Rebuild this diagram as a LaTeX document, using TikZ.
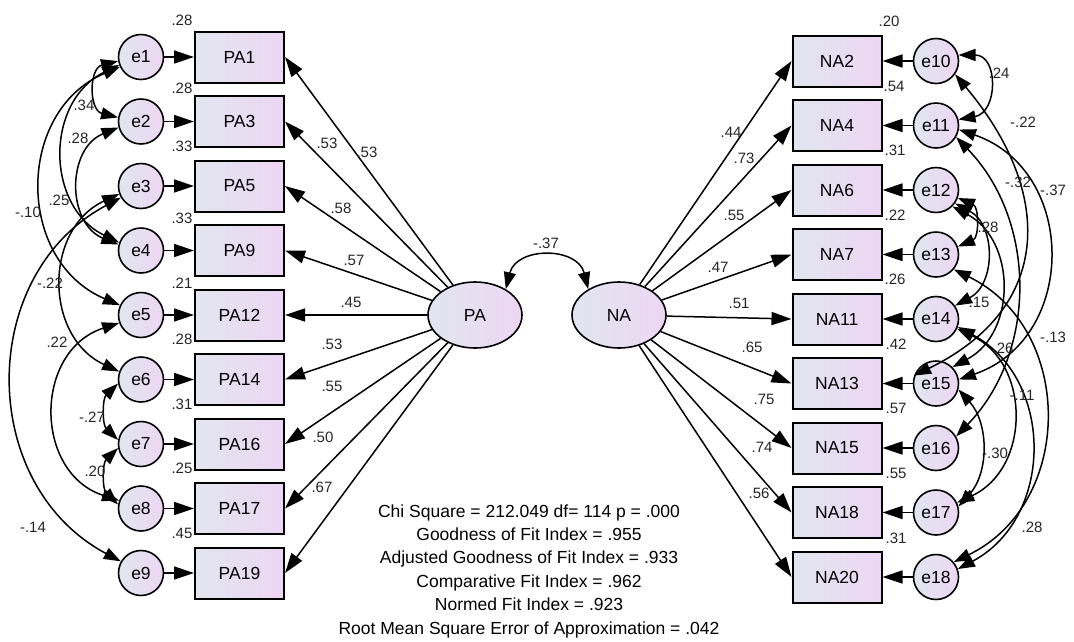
\documentclass[tikz,border=0pt]{standalone}
\usepackage{fontspec}
\setmainfont{Liberation Sans}
\usetikzlibrary{arrows.meta, positioning, shapes.geometric}
\definecolor{shadeleft}{HTML}{E1E6F0}
\definecolor{shaderight}{HTML}{EDD6F2}
\tikzset{
  errc/.style={circle, draw, line width=1.6pt, minimum size=45pt, inner sep=0pt,
               left color=shadeleft, right color=shaderight,
               font=\fontsize{17.5}{19}\selectfont},
  ind/.style={rectangle, draw, line width=2pt, minimum width=89pt, minimum height=51pt,
              inner sep=0pt, left color=shadeleft, right color=shaderight,
              font=\fontsize{17.5}{19}\selectfont},
  lat/.style={ellipse, draw, line width=1.6pt, minimum width=94pt, minimum height=66pt,
               inner sep=0pt, left color=shadeleft, right color=shaderight,
               font=\fontsize{17.5}{19}\selectfont},
  arr/.style={-{Triangle[length=20pt,width=13pt]}, line width=1.5pt},
  cov/.style={{Triangle[length=17pt,width=12pt]}-{Triangle[length=17pt,width=12pt]},
              line width=1.5pt},
  lbl/.style={font=\fontsize{15}{17}\selectfont, text=black!85, inner sep=0pt},
  stats/.style={align=center, inner sep=0pt, font=\fontsize{17.5}{23.4}\selectfont},
}

\begin{document}
\begin{tikzpicture}[x=1pt, y=1pt]
  \useasboundingbox (0,0) rectangle (1074,-641);

  % PA side: errors and items
  \node[errc] (e1) at (141,-57) {e1};
  \node[errc] (e2) at (141,-121.5) {e2};
  \node[errc] (e3) at (141,-186) {e3};
  \node[errc] (e4) at (141,-250.5) {e4};
  \node[errc] (e5) at (141,-315) {e5};
  \node[errc] (e6) at (141,-379.5) {e6};
  \node[errc] (e7) at (141,-444) {e7};
  \node[errc] (e8) at (141,-508.5) {e8};
  \node[errc] (e9) at (141,-573) {e9};
  \node[ind, right=29.7pt of e1] (PA1) {PA1};
  \node[ind, right=29.7pt of e2] (PA3) {PA3};
  \node[ind, right=29.7pt of e3] (PA5) {PA5};
  \node[ind, right=29.7pt of e4] (PA9) {PA9};
  \node[ind, right=29.7pt of e5] (PA12) {PA12};
  \node[ind, right=29.7pt of e6] (PA14) {PA14};
  \node[ind, right=29.7pt of e7] (PA16) {PA16};
  \node[ind, right=29.7pt of e8] (PA17) {PA17};
  \node[ind, right=29.7pt of e9] (PA19) {PA19};

  % NA side: items and errors
  \node[ind] (NA2) at (837,-61) {NA2};
  \node[ind] (NA4) at (837,-125.5) {NA4};
  \node[ind] (NA6) at (837,-190) {NA6};
  \node[ind] (NA7) at (837,-254.5) {NA7};
  \node[ind] (NA11) at (837,-319) {NA11};
  \node[ind] (NA13) at (837,-383.5) {NA13};
  \node[ind] (NA15) at (837,-448) {NA15};
  \node[ind] (NA18) at (837,-512.5) {NA18};
  \node[ind] (NA20) at (837,-577) {NA20};
  \node[errc, right=30.2pt of NA2] (e10) {e10};
  \node[errc, right=30.2pt of NA4] (e11) {e11};
  \node[errc, right=30.2pt of NA6] (e12) {e12};
  \node[errc, right=30.2pt of NA7] (e13) {e13};
  \node[errc, right=30.2pt of NA11] (e14) {e14};
  \node[errc, right=30.2pt of NA13] (e15) {e15};
  \node[errc, right=30.2pt of NA15] (e16) {e16};
  \node[errc, right=30.2pt of NA18] (e17) {e17};
  \node[errc, right=30.2pt of NA20] (e18) {e18};

  % latent factors
  \node[lat] (PA) at (475,-315) {PA};
  \node[lat] (NA) at (619,-315) {NA};

  % error paths
  \draw[arr] (e1) -- (PA1);
  \draw[arr] (e2) -- (PA3);
  \draw[arr] (e3) -- (PA5);
  \draw[arr] (e4) -- (PA9);
  \draw[arr] (e5) -- (PA12);
  \draw[arr] (e6) -- (PA14);
  \draw[arr] (e7) -- (PA16);
  \draw[arr] (e8) -- (PA17);
  \draw[arr] (e9) -- (PA19);
  \draw[arr] (e10) -- (NA2);
  \draw[arr] (e11) -- (NA4);
  \draw[arr] (e12) -- (NA6);
  \draw[arr] (e13) -- (NA7);
  \draw[arr] (e14) -- (NA11);
  \draw[arr] (e15) -- (NA13);
  \draw[arr] (e16) -- (NA15);
  \draw[arr] (e17) -- (NA18);
  \draw[arr] (e18) -- (NA20);

  % loadings
  \draw[arr] (PA) -- (PA1.east);
  \draw[arr] (PA) -- (PA3.east);
  \draw[arr] (PA) -- (PA5.east);
  \draw[arr] (PA) -- (PA9.east);
  \draw[arr] (PA) -- (PA12.east);
  \draw[arr] (PA) -- (PA14.east);
  \draw[arr] (PA) -- (PA16.east);
  \draw[arr] (PA) -- (PA17.east);
  \draw[arr] (PA) -- (PA19.east);
  \draw[arr] (NA) -- (NA2.west);
  \draw[arr] (NA) -- (NA4.west);
  \draw[arr] (NA) -- (NA6.west);
  \draw[arr] (NA) -- (NA7.west);
  \draw[arr] (NA) -- (NA11.west);
  \draw[arr] (NA) -- (NA13.west);
  \draw[arr] (NA) -- (NA15.west);
  \draw[arr] (NA) -- (NA18.west);
  \draw[arr] (NA) -- (NA20.west);

  % covariances
  \draw[cov] (PA.40) to[bend left=76, looseness=1.37] (NA.140);
  \draw[cov] (e1.190) to[bend right=76, looseness=1.37] (e2.170);
  \draw[cov] (e2.195) to[bend right=68, looseness=1.23] (e4.165);
  \draw[cov] (e1.200) to[bend right=64, looseness=1.19] (e4.160);
  \draw[cov] (e1.205) to[bend right=67, looseness=1.22] (e5.155);
  \draw[cov] (e3.200) to[bend right=65, looseness=1.2] (e6.160);
  \draw[cov] (e3.210) to[bend right=62, looseness=1.15] (e9.150);
  \draw[cov] (e5.200) to[bend right=72, looseness=1.3] (e8.160);
  \draw[cov] (e6.190) to[bend right=46] (e7.170);
  \draw[cov] (e7.190) to[bend right=46] (e8.170);
  \draw[cov] (e10.15) to[out=0, in=10, looseness=1.6] (e11.15);
  \draw[cov] (e10.-35) to[out=-50, in=26, looseness=1.3] (e15.160);
  \draw[cov] (e11.-30) to[bend left=44] (e16.30);
  \draw[cov] (e11.-10) to[bend left=71, looseness=1.29] (e15.10);
  \draw[cov] (e12.-20) to[bend left=67, looseness=1.22] (e13.20);
  \draw[cov] (e12.-35) to[bend left=62, looseness=1.16] (e14.35);
  \draw[cov] (e12.-45) to[bend left=62, looseness=1.16] (e15.45);
  \draw[cov] (e13.-40) to[bend left=64, looseness=1.18] (e18.40);
  \draw[cov] (e14.-25) to[bend left=65, looseness=1.2] (e17.25);
  \draw[cov] (e15.-15) to[bend left=42] (e17.15);
  \draw[cov] (e14.-20) to[bend left=62, looseness=1.16] (e18.20);

  % squared multiple correlations
  \node[lbl] (r1) at (182,-20) {.28};
  \node[lbl] (r3) at (182,-88) {.28};
  \node[lbl] (r5) at (182,-146) {.33};
  \node[lbl] (r9) at (182,-218) {.33};
  \node[lbl] (r12) at (182,-283) {.21};
  \node[lbl] (r14) at (182,-339) {.28};
  \node[lbl] (r16) at (182,-404) {.31};
  \node[lbl] (r17) at (182,-468) {.25};
  \node[lbl] (r19) at (182,-533) {.45};
  \node[lbl] (s2) at (889,-21) {.20};
  \node[lbl] (s4) at (894,-86) {.54};
  \node[lbl] (s6) at (895,-150) {.31};
  \node[lbl] (s7) at (895,-215) {.22};
  \node[lbl] (s11) at (895,-279) {.26};
  \node[lbl] (s13) at (896,-344) {.42};
  \node[lbl] (s15) at (896,-408) {.57};
  \node[lbl] (s18) at (896,-473) {.55};
  \node[lbl] (s20) at (896,-538) {.31};

  % loading values
  \node[lbl] (w1) at (367,-152) {.53};
  \node[lbl] (w3) at (327,-143) {.53};
  \node[lbl] (w5) at (341,-208) {.58};
  \node[lbl] (w9) at (354,-260) {.57};
  \node[lbl] (w12) at (351,-302) {.45};
  \node[lbl] (w14) at (332,-344) {.53};
  \node[lbl] (w16) at (332,-386) {.55};
  \node[lbl] (w17) at (323,-437) {.50};
  \node[lbl] (w19) at (322,-487) {.67};
  \node[lbl] (v2) at (731,-132) {.44};
  \node[lbl] (v4) at (744,-158) {.73};
  \node[lbl] (v6) at (734,-215) {.55};
  \node[lbl] (v7) at (718,-267) {.47};
  \node[lbl] (v11) at (739,-303) {.51};
  \node[lbl] (v13) at (752,-347) {.65};
  \node[lbl] (v15) at (764,-399) {.75};
  \node[lbl] (v18) at (762,-447) {.74};
  \node[lbl] (v20) at (759,-493) {.56};

  % covariance values
  \node[lbl] (cf) at (546,-243) {-.37};
  \node[lbl] (c1) at (84,-105) {.34};
  \node[lbl] (c2) at (78,-138) {.28};
  \node[lbl] (c3) at (59,-200) {.25};
  \node[lbl] (c4) at (28,-212) {-.10};
  \node[lbl] (c5) at (50,-283) {-.22};
  \node[lbl] (c6) at (57,-342) {.22};
  \node[lbl] (c7) at (92,-417) {-.27};
  \node[lbl] (c8) at (95,-471) {.20};
  \node[lbl] (c9) at (33,-527) {-.14};
  \node[lbl] (d1) at (999,-73) {.24};
  \node[lbl] (d2) at (1023,-122) {-.22};
  \node[lbl] (d3) at (1018,-182) {-.32};
  \node[lbl] (d4) at (1053,-190) {-.37};
  \node[lbl] (d5) at (988,-227) {.28};
  \node[lbl] (d6) at (979,-302) {.15};
  \node[lbl] (d7) at (1003,-348) {.26};
  \node[lbl] (d8) at (1053,-337) {-.13};
  \node[lbl] (d9) at (1022,-395) {-.11};
  \node[lbl] (d10) at (995,-453) {-.30};
  \node[lbl] (d11) at (1032,-527) {.28};

  % fit indices
  \node[stats] (fit) at (529,-571) {Chi Square = 212.049 df= 114 p = .000\\
    Goodness of Fit Index = .955\\
    Adjusted Goodness of Fit Index = .933\\
    Comparative Fit Index = .962\\
    Normed Fit Index = .923\\
    Root Mean Square Error of Approximation = .042};
\end{tikzpicture}
\end{document}
